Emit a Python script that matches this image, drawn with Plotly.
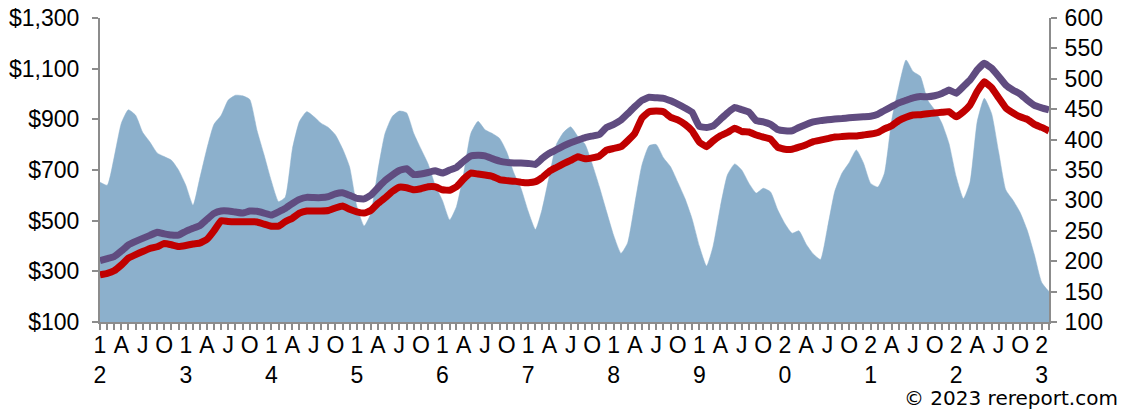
import pandas as pd
import plotly.graph_objects as go

# Monthly dates Jan 2012 .. Feb 2023
months = pd.date_range("2012-01-01", "2023-02-01", freq="MS")

# Area series (right axis, 100-600)
area_vals = [
    330, 325, 370, 427, 449, 440, 412, 396, 378, 372, 366, 350,
    325, 292, 335, 385, 425, 440, 465, 473, 472, 466, 415, 375,
    332, 298, 305, 385, 430, 446, 438, 427, 420, 408, 385, 355,
    290, 258, 278, 350, 410, 438, 447, 444, 410, 385, 360, 325,
    300, 268, 290, 345, 410, 430, 416, 410, 402, 380, 345, 320,
    282, 252, 285, 340, 392, 412, 421, 405, 392, 360, 322, 282,
    242, 213, 230, 295, 358, 390, 392, 370, 355, 330, 303, 270,
    225, 192, 225, 290, 342, 360, 350, 328, 312, 320, 314, 285,
    262, 246, 250, 228, 212, 203, 255, 315, 345, 362, 383, 362,
    328, 322, 345, 432, 487, 531, 512, 504, 465, 449, 427, 394,
    339, 303, 330, 430, 468, 443, 380, 317, 300, 280, 250, 210,
    165, 150,
]

# Purple line (left axis, $)
purple_vals = [
    342, 350, 358, 380, 404, 418, 430, 442, 454, 448, 443, 443,
    458, 470, 480, 505, 528, 538, 538, 534, 530, 538, 537, 530,
    522, 535, 548, 568, 584, 592, 591, 591, 595, 606, 610, 600,
    588, 586, 600, 630, 658, 680, 698, 705, 682, 684, 690, 697,
    688, 700, 710, 735, 755, 758, 756, 745, 735, 730, 728, 728,
    726, 722, 745, 766, 780, 795, 808, 818, 828, 834, 840, 868,
    880, 897, 922, 950, 975, 987, 985, 983, 973, 960, 945, 928,
    872, 868, 874, 900, 925, 947, 938, 928, 895, 890, 880, 860,
    855, 855, 868, 880, 890, 895, 898, 901, 903, 906, 908, 910,
    912, 920, 935, 950, 965, 975, 985, 990, 989, 993, 1002, 1016,
    1003, 1030, 1055, 1095, 1121, 1102, 1070, 1035, 1015, 1000, 975, 955,
    945, 937,
]

# Red line (left axis, $)
red_vals = [
    286, 292, 302, 325, 352, 366, 378, 390, 397, 410, 405, 398,
    402, 408, 411, 426, 460, 500, 497, 496, 496, 496, 495, 486,
    478, 478, 496, 510, 530, 538, 538, 538, 540, 550, 558, 545,
    535, 530, 540, 568, 590, 615, 632, 630, 622, 626, 634, 634,
    622, 620, 634, 665, 688, 684, 680, 675, 662, 658, 656, 652,
    650, 654, 670, 695, 710, 725, 738, 752, 744, 748, 755, 778,
    785, 792, 815, 845, 905, 930, 933, 930, 908, 898, 880, 855,
    810, 792, 815, 835, 848, 865, 852, 850, 838, 830, 822, 790,
    782, 782, 790, 800, 812, 818, 824, 830, 832, 834, 834, 838,
    842, 848, 862, 875, 895, 908, 917, 918, 922, 925, 928, 930,
    910, 930, 956, 1010, 1048, 1025, 985, 945, 925, 910, 900, 880,
    868, 854,
]

# Tick labels (every 3 months)
tick_labels = (
    ["1<br>2", "A", "J", "O", "1<br>3", "A", "J", "O", "1<br>4", "A", "J", "O",
     "1<br>5", "A", "J", "O", "1<br>6", "A", "J", "O", "1<br>7", "A", "J", "O",
     "1<br>8", "A", "J", "O", "1<br>9", "A", "J", "O", "2<br>0", "A", "J", "O",
     "2<br>1", "A", "J", "O", "2<br>2", "A", "J", "O", "2<br>3"]
)

tickvals = list(months)
ticktext = []
for k in range(len(months)):
    ticktext.append(tick_labels[k // 3] if k % 3 == 0 else "")

AXIS_GRAY = "#8c8c8c"
FONT = dict(family="Liberation Sans, Arial, sans-serif", size=23, color="#000000")

fig = go.Figure()

fig.add_trace(go.Scatter(
    x=months, y=area_vals, yaxis="y", mode="lines",
    line=dict(color="#8CB0CC", width=0.5, shape="spline", smoothing=0.5),
    fill="tozeroy", fillcolor="#8CB0CC", hoverinfo="skip", showlegend=False,
))
fig.add_trace(go.Scatter(
    x=months, y=purple_vals, yaxis="y2", mode="lines",
    line=dict(color="#604C80", width=7, shape="spline", smoothing=0.3),
    showlegend=False,
))
fig.add_trace(go.Scatter(
    x=months, y=red_vals, yaxis="y2", mode="lines",
    line=dict(color="#C00000", width=7, shape="spline", smoothing=0.3),
    showlegend=False,
))

fig.update_layout(
    width=1124, height=412,
    margin=dict(l=100, r=75, t=18, b=90, autoexpand=False),
    paper_bgcolor="white", plot_bgcolor="white",
    font=FONT,
    showlegend=False,
    xaxis=dict(
        range=[months[0], months[-1]], automargin=False,
        tickvals=tickvals, ticktext=ticktext, tickangle=0,
        ticks="outside", ticklen=6, tickwidth=2, tickcolor=AXIS_GRAY,
        ticklabelstandoff=-5,
        showline=True, linecolor=AXIS_GRAY, linewidth=2,
        showgrid=False, zeroline=False, tickfont=FONT,
    ),
    yaxis=dict(
        side="right", range=[100, 600], dtick=50, tick0=100, automargin=False,
        ticks="outside", ticklen=6, tickwidth=2, tickcolor=AXIS_GRAY,
        ticklabelstandoff=3,
        showline=True, linecolor=AXIS_GRAY, linewidth=2,
        showgrid=False, zeroline=False, tickfont=FONT,
    ),
    yaxis2=dict(
        overlaying="y", side="left", range=[100, 1300], dtick=200, tick0=100,
        automargin=False, tickprefix="$", tickformat=",d",
        ticks="outside", ticklen=6, tickwidth=2, tickcolor=AXIS_GRAY,
        ticklabelstandoff=8,
        showline=True, linecolor=AXIS_GRAY, linewidth=2,
        showgrid=False, zeroline=False, tickfont=FONT,
    ),
    annotations=[dict(
        text="© 2023 rereport.com", xref="paper", yref="paper",
        x=1.0748, y=-0.25, xanchor="right", yanchor="middle",
        showarrow=False,
        font=dict(family="DejaVu Sans, Verdana, sans-serif", size=20, color="#000000"),
    )],
)

fig.write_html("out.html", config={"displayModeBar": False},
               post_script="document.body.style.margin='0px';")
